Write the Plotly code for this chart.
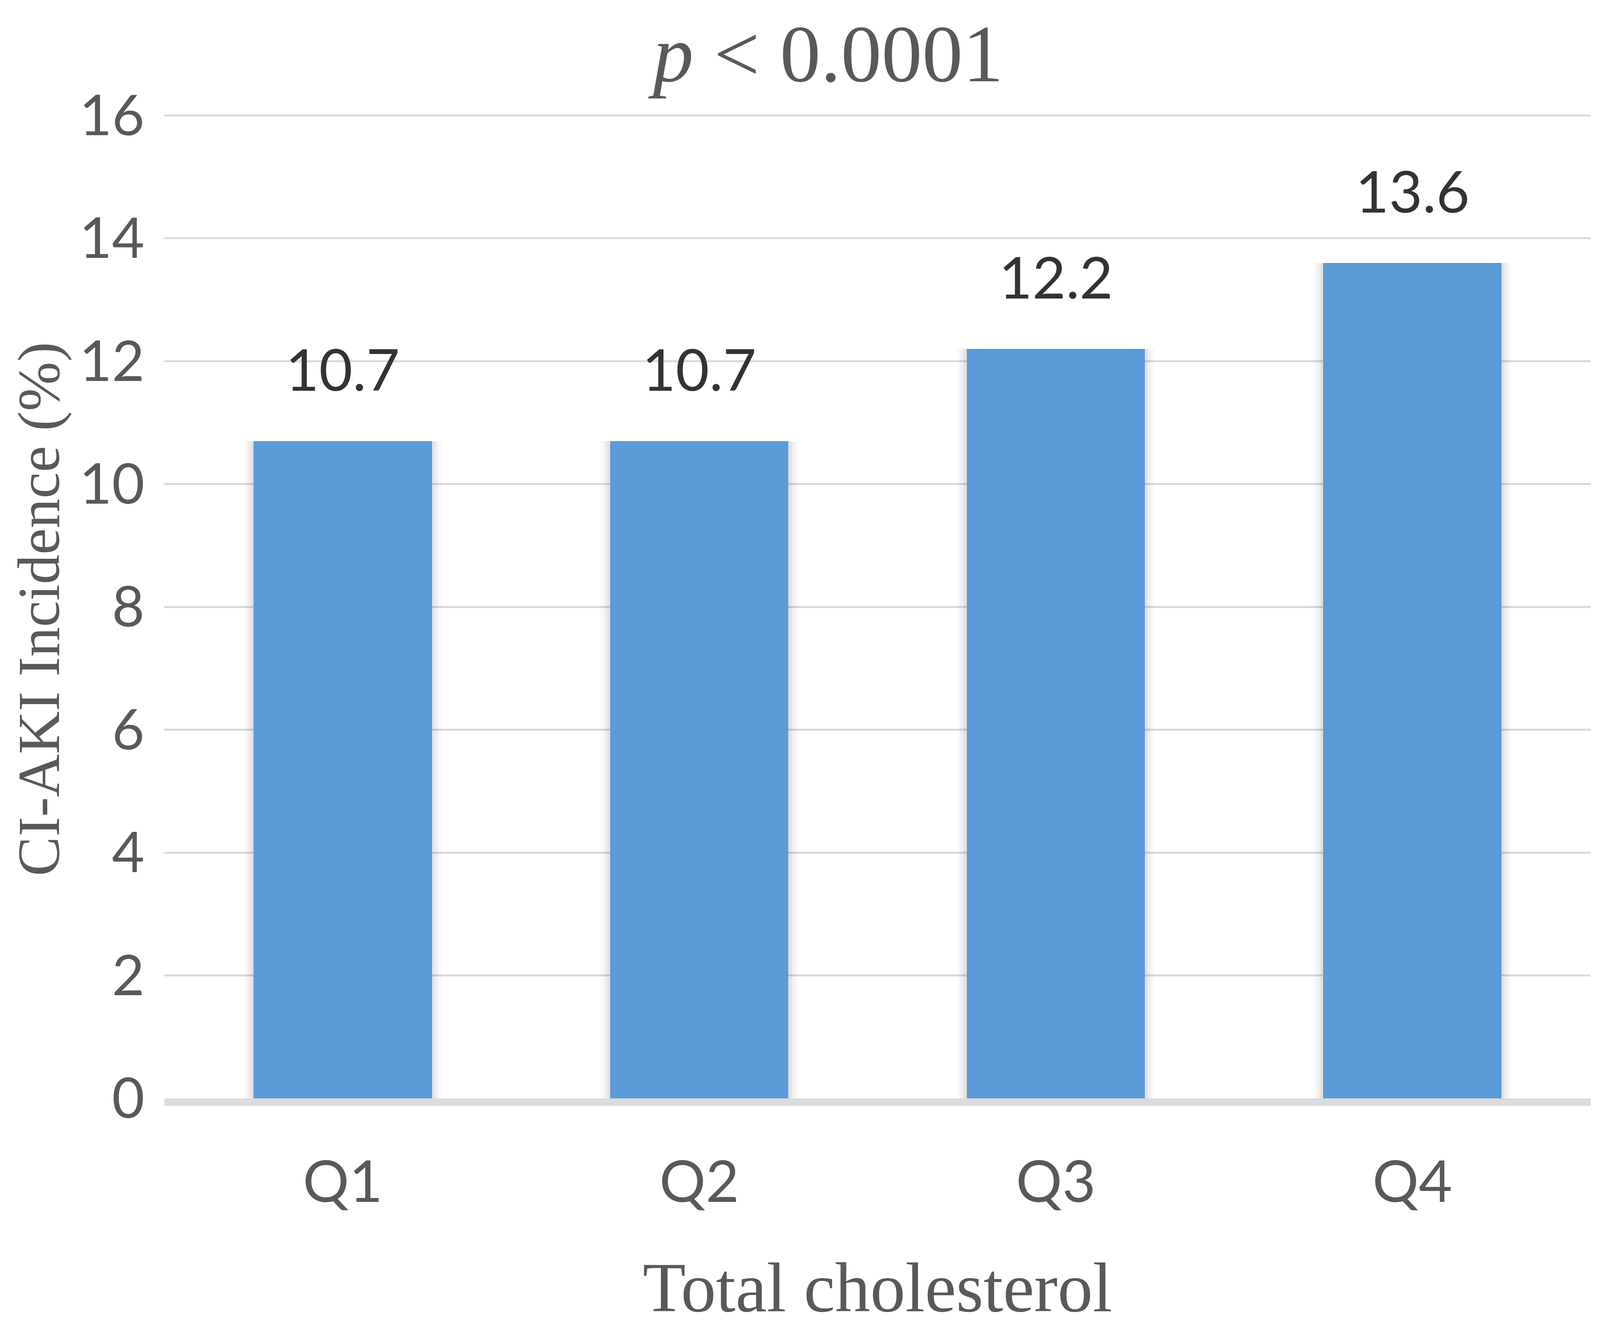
import plotly.graph_objects as go

categories = ["Q1", "Q2", "Q3", "Q4"]
incidence = [10.7, 10.7, 12.2, 13.6]
value_labels = ["10.7", "10.7", "12.2", "13.6"]
y_ticks = [0, 2, 4, 6, 8, 10, 12, 14, 16]

SANS = "Lato"
SERIF = "Liberation Serif"
GREY = "#595959"

fig = go.Figure()

# soft shadow layers behind the bars
for k, a in [(3, 0.025), (2, 0.035), (1, 0.05)]:
    fig.add_trace(go.Bar(
        x=categories, y=incidence, width=0.5 + 0.018 * k,
        marker=dict(color=f"rgba(0,0,0,{a})", line=dict(width=0)),
        hoverinfo="skip", showlegend=False,
    ))

fig.add_trace(go.Bar(
    x=categories, y=incidence, width=0.5,
    marker=dict(color="#5a9bd8", line=dict(width=0)),
    showlegend=False,
))

for c, v, t in zip(categories, incidence, value_labels):
    fig.add_annotation(
        x=c, y=v, text=t, showarrow=False, yanchor="bottom",
        yshift=95, font=dict(family=SANS, size=148, color="#333333"),
    )

# y-axis title, placed relative to the plot's left edge
fig.add_annotation(
    text="CI-AKI Incidence (%)", textangle=-90, showarrow=False,
    xref="paper", yref="paper", x=0, y=0.5, xshift=-322, yshift=-8,
    xanchor="center", yanchor="middle",
    font=dict(family=SERIF, size=152, color=GREY),
)

fig.update_layout(
    autosize=True,
    margin=dict(l=413, r=16, t=284, b=590),
    paper_bgcolor="white", plot_bgcolor="white",
    barmode="overlay", bargap=0,
    title=dict(
        text="<i>p</i> < 0.0001", x=0.5177, xref="container",
        y=0.96245, yref="container", xanchor="center", yanchor="middle",
        font=dict(family=SERIF, size=208, color=GREY),
    ),
    xaxis=dict(
        type="category", range=[-0.5, 3.5],
        showline=True, linecolor="#dadcdf", linewidth=19,
        showgrid=False, zeroline=False, ticks="",
        tickfont=dict(family=SANS, size=148, color=GREY),
        ticklabelstandoff=68,
        title=dict(text="Total cholesterol", standoff=132,
                   font=dict(family=SERIF, size=180, color=GREY)),
    ),
    yaxis=dict(
        range=[0, 16.02], tickvals=y_ticks,
        ticktext=[str(v) for v in y_ticks],
        showgrid=True, gridcolor="#d9d9d9", gridwidth=5,
        zeroline=False, showline=False, ticks="",
        tickfont=dict(family=SANS, size=144, color=GREY),
        ticklabelstandoff=50,
    ),
)

fig.write_html("out.html", default_width="100%", default_height="100%",
               config={"responsive": True})
